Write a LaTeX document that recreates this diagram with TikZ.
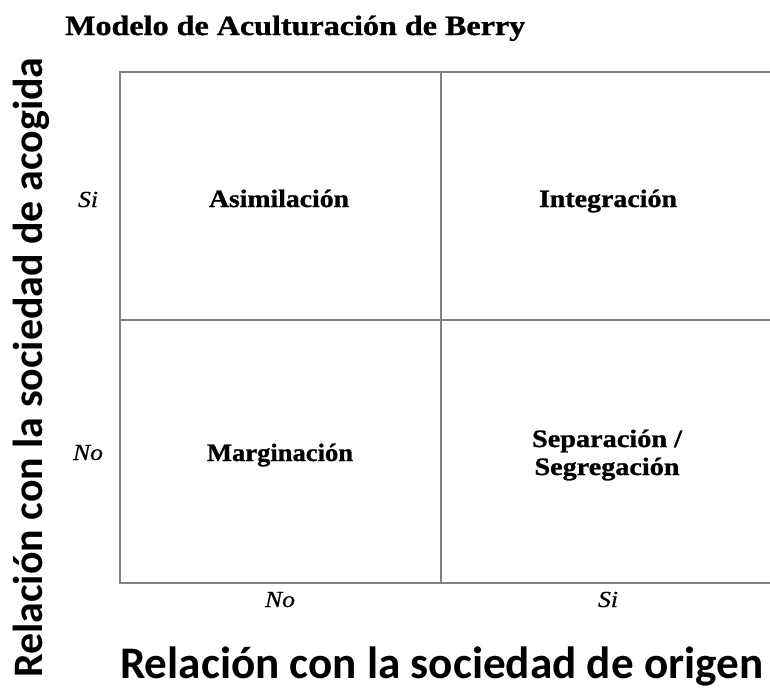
\documentclass[tikz,border=0pt]{standalone}
\usepackage{fontspec}
\setmainfont{Liberation Serif}
\newfontfamily\heavyserif[FakeBold=1]{Liberation Serif Bold}
\newfontfamily\heavyital[FakeBold=0.5]{Liberation Serif Italic}
\newfontfamily\axisfont{Carlito}
\newcommand\fitto[2]{\resizebox{#1}{\height}{#2}}
\begin{document}
\begin{tikzpicture}[x=1pt,y=-1pt,
  gridline/.style={draw={rgb,255:red,130;green,130;blue,130},line width=1.6pt},
  cell/.style={inner sep=0pt,anchor=base,font=\fontsize{25}{28}\heavyserif},
  yesno/.style={inner sep=0pt,anchor=base,font=\fontsize{23}{26}\heavyital},
  axislabel/.style={inner sep=0pt,font=\axisfont\bfseries}]
\useasboundingbox (0,0) rectangle (770,688);
% grid
\coordinate (tl) at (120,72);
\coordinate (tr) at (770,72);
\coordinate (ml) at (120,320);
\coordinate (mr) at (770,320);
\coordinate (bl) at (120,583);
\coordinate (br) at (770,583);
\coordinate (tm) at (441,72);
\coordinate (bm) at (441,583);
\draw[gridline] (tr) -- (tl) -- (bl) -- (br);
\draw[gridline] (ml) -- (mr);
\draw[gridline] (tm) -- (bm);
% title
\node[inner sep=0pt,anchor=base west,font=\fontsize{28}{30}\heavyserif] (title) at (65,35)
  {\fitto{460pt}{Modelo de Aculturación de Berry}};
% cells
\node[cell] (asim) at (279,207) {\fitto{140pt}{Asimilación}};
\node[cell] (integ) at (608,207) {\fitto{138pt}{Integración}};
\node[cell] (marg) at (280,461) {\fitto{146pt}{Marginación}};
\node[cell] (sep) at (607,447) {\fitto{150pt}{Separación /}};
\node[cell] (segr) at (607,475) {\fitto{145pt}{Segregación}};
% yes/no labels
\node[yesno] (ysi) at (88,207) {\fitto{20pt}{Si}};
\node[yesno] (yno) at (88,460) {\fitto{30pt}{No}};
\node[yesno] (xno) at (280,607) {\fitto{30pt}{No}};
\node[yesno] (xsi) at (608,607) {\fitto{20pt}{Si}};
% axis labels
\node[axislabel,anchor=base west] (xaxis) at (120,678)
  {\resizebox{643pt}{!}{Relación con la sociedad de origen}};
\node[axislabel,anchor=base west,rotate=90] (yaxis) at (42,678)
  {\resizebox{620pt}{!}{Relación con la sociedad de acogida}};
\end{tikzpicture}
\end{document}
